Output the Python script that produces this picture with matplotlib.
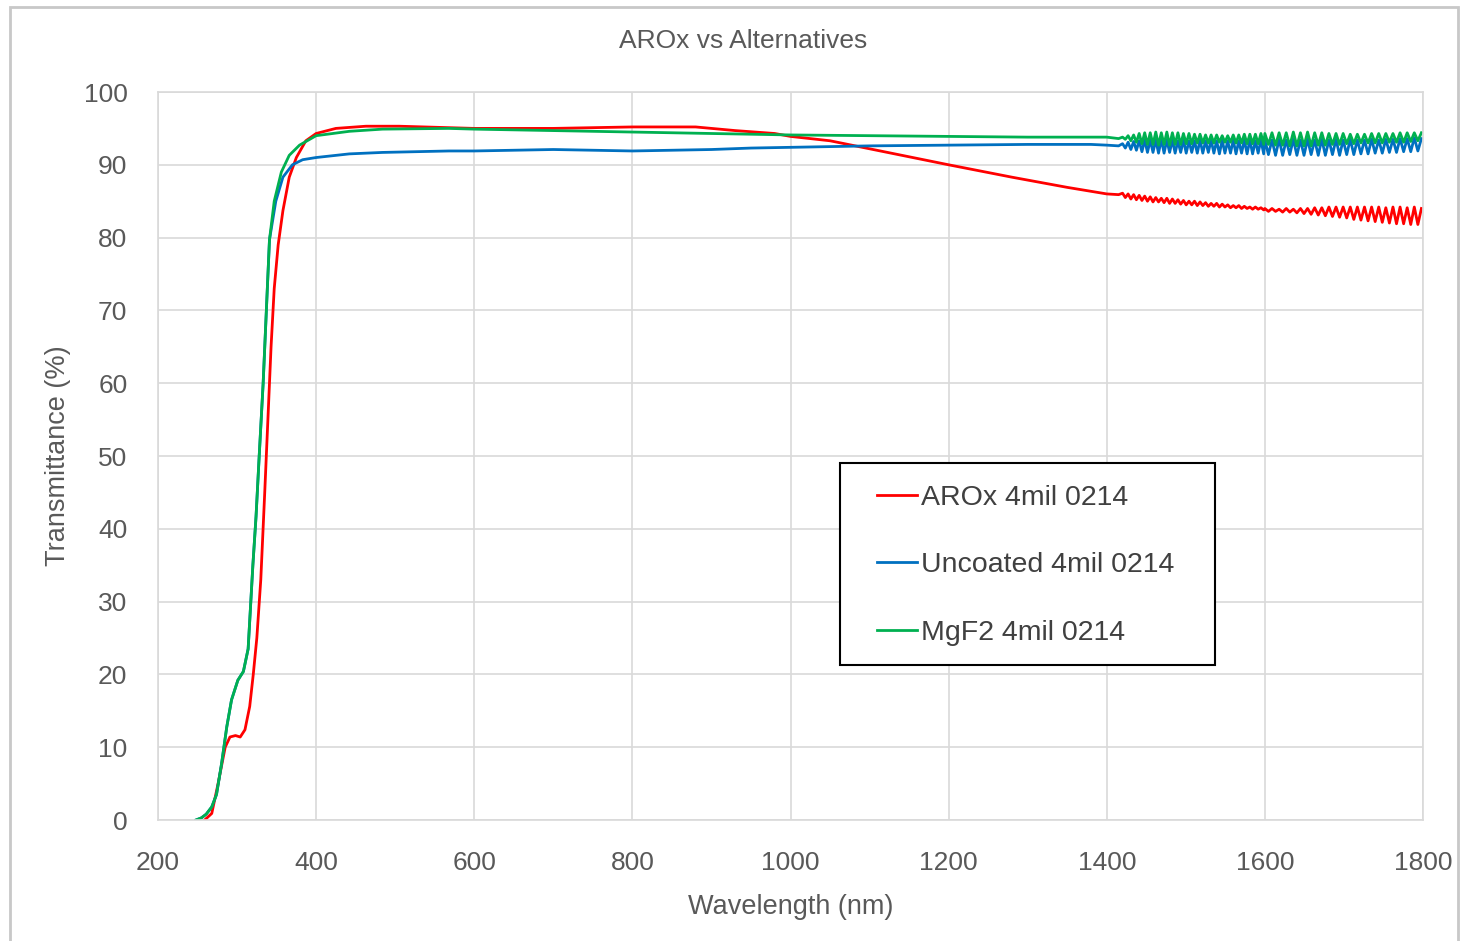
import numpy as np
import matplotlib
matplotlib.use("Agg")
import matplotlib.pyplot as plt
from matplotlib.patches import Rectangle

plt.rcParams["font.family"] = ["Liberation Sans", "DejaVu Sans"]

# smooth part of each spectrum (nm, %T)
arox_wl = [259, 268, 276, 285, 291, 298, 304, 310, 316, 320.5, 325, 330, 335, 339, 343,
           347, 352, 358, 366, 375, 387, 400, 425, 463, 505, 568, 600, 700, 800, 880,
           930, 980, 1000, 1050, 1100, 1200, 1280, 1300, 1350, 1400, 1415]
arox_t = [0, 0.9, 5, 10, 11.4, 11.6, 11.4, 12.4, 15.6, 20, 25, 33, 45, 55, 65,
          73, 79, 83.7, 88.3, 91, 93.3, 94.3, 95, 95.3, 95.3, 95.1, 95.0, 95.0, 95.2, 95.2,
          94.7, 94.3, 93.9, 93.3, 92.2, 90.0, 88.3, 87.9, 86.9, 86.0, 85.9]

unc_wl = [248, 255, 261, 268, 274, 280.5, 287, 293, 301, 308, 314, 320, 324, 328, 333,
          337, 341, 349, 358, 370, 383, 400, 442, 484, 568, 600, 700, 800, 900, 950,
          1000, 1050, 1100, 1200, 1300, 1380, 1400, 1415]
unc_t = [0, 0.3, 0.8, 1.8, 3.5, 7.8, 12.8, 16.5, 19.2, 20.4, 23.5, 35, 41.7, 50, 60,
         70, 79.7, 85, 88.3, 90, 90.7, 91.0, 91.5, 91.7, 91.9, 91.9, 92.1, 91.9, 92.1, 92.3,
         92.4, 92.5, 92.6, 92.7, 92.8, 92.8, 92.7, 92.6]

mgf2_wl = [248, 255, 261, 268, 274, 280.5, 287, 293, 301, 308, 314, 320, 324, 328, 333,
           337, 341, 347, 356, 366, 379, 400, 442, 484, 568, 600, 700, 800, 900, 1000,
           1100, 1200, 1300, 1400, 1415]
mgf2_t = [0, 0.3, 0.8, 1.8, 3.5, 7.8, 12.8, 16.5, 19.2, 20.4, 23.5, 35, 41.7, 50, 60,
          70, 79.7, 85, 89, 91.3, 92.7, 94, 94.6, 94.9, 95.0, 94.9, 94.7, 94.5, 94.3, 94.1,
          94.0, 93.9, 93.8, 93.8, 93.6]

# interference fringe region, instrument sampling grid
osc_wl = np.concatenate([np.arange(1420, 1600, 3.5), np.arange(1600, 1801, 4.5)])

arox_osc = [86.1, 85.5, 86.0, 85.3, 85.9, 85.2, 85.8, 85.1, 85.7, 85.0,
            85.6, 84.9, 85.5, 84.9, 85.4, 84.8, 85.4, 84.7, 85.3, 84.7,
            85.2, 84.6, 85.1, 84.5, 85.0, 84.5, 85.0, 84.4, 84.9, 84.4,
            84.8, 84.3, 84.7, 84.3, 84.7, 84.2, 84.6, 84.2, 84.5, 84.1,
            84.4, 84.1, 84.4, 84.0, 84.3, 84.0, 84.2, 83.9, 84.2, 83.9,
            84.1, 83.8,
            84.0, 83.6, 84.0, 83.6, 83.9, 83.5, 84.0, 83.5, 83.9, 83.4,
            84.0, 83.3, 84.0, 83.2, 84.1, 83.1, 84.1, 83.0, 84.2, 82.9,
            84.2, 82.8, 84.2, 82.7, 84.2, 82.5, 84.2, 82.4, 84.2, 82.3,
            84.2, 82.2, 84.2, 82.1, 84.1, 82.0, 84.2, 81.9, 84.2, 81.9,
            84.1, 81.8, 84.2, 81.8, 84.0]

unc_osc = [92.9, 92.3, 93.1, 92.1, 93.2, 92.0, 93.3, 91.8, 93.4, 91.7,
           93.4, 91.7, 93.4, 91.6, 93.5, 91.6, 93.4, 91.7, 93.4, 91.6,
           93.3, 91.7, 93.4, 91.6, 93.3, 91.7, 93.3, 91.6, 93.4, 91.6,
           93.3, 91.7, 93.4, 91.6, 93.3, 91.5, 93.4, 91.6, 93.3, 91.6,
           93.4, 91.5, 93.3, 91.6, 93.4, 91.5, 93.4, 91.5, 93.3, 91.6,
           93.4, 91.5,
           93.4, 91.4, 93.4, 91.3, 93.5, 91.3, 93.4, 91.4, 93.5, 91.3,
           93.4, 91.3, 93.5, 91.4, 93.4, 91.3, 93.5, 91.3, 93.4, 91.4,
           93.5, 91.3, 93.4, 91.4, 93.5, 91.4, 93.4, 91.5, 93.4, 91.5,
           93.5, 91.6, 93.4, 91.6, 93.5, 91.7, 93.5, 91.7, 93.6, 91.8,
           93.6, 91.8, 93.7, 91.9, 93.6]

mgf2_osc = [93.8, 93.5, 94.0, 93.3, 94.1, 93.1, 94.3, 92.9, 94.4, 92.8,
            94.4, 92.8, 94.5, 92.7, 94.4, 92.8, 94.5, 92.7, 94.4, 92.8,
            94.4, 92.8, 94.3, 92.9, 94.3, 92.9, 94.2, 93.0, 94.2, 93.0,
            94.1, 93.0, 94.1, 93.0, 94.1, 93.1, 94.0, 93.1, 94.0, 93.1,
            94.1, 93.0, 94.1, 93.0, 94.2, 92.9, 94.2, 92.9, 94.2, 92.9,
            94.3, 92.8,
            94.3, 92.8, 94.4, 92.7, 94.4, 92.7, 94.4, 92.6, 94.5, 92.6,
            94.4, 92.6, 94.5, 92.6, 94.4, 92.7, 94.4, 92.7, 94.3, 92.8,
            94.3, 92.8, 94.3, 92.9, 94.2, 92.9, 94.2, 93.0, 94.2, 93.0,
            94.3, 93.0, 94.3, 93.0, 94.3, 93.1, 94.3, 93.1, 94.4, 93.1,
            94.4, 93.2, 94.4, 93.3, 94.4]

series = [
    ("AROx 4mil 0214", arox_wl, arox_t, arox_osc, "#ff0000"),
    ("Uncoated 4mil 0214", unc_wl, unc_t, unc_osc, "#0070c0"),
    ("MgF2 4mil 0214", mgf2_wl, mgf2_t, mgf2_osc, "#00b050"),
]

grey = "#595959"
fig = plt.figure(figsize=(14.61, 9.41), dpi=100)
fig.patches.append(Rectangle((10 / 1461, -0.01), (1458 - 10) / 1461, 1 - 7 / 941 + 0.01,
                             transform=fig.transFigure, fill=False,
                             edgecolor="#c8c8c8", lw=2))
ax = fig.add_axes([158 / 1461, 1 - 820 / 941, (1423 - 158) / 1461, (820 - 92) / 941])

for name, wl, t, osc, col in series:
    x = np.concatenate([wl, osc_wl])
    y = np.concatenate([t, osc])
    ax.plot(x, y, color=col, lw=2.0, label=name)

ax.set_xlim(200, 1800)
ax.set_ylim(0, 100)
ax.set_xticks(np.arange(200, 1801, 200))
ax.set_yticks(np.arange(0, 101, 10))
ax.grid(True, color="#d9d9d9", lw=1.2)
ax.set_axisbelow(True)
for s in ax.spines.values():
    s.set_color("#d9d9d9")
    s.set_linewidth(1.2)
ax.tick_params(length=0, labelsize=19, labelcolor=grey)
ax.tick_params(axis="y", pad=22)
ax.tick_params(axis="x", pad=22)

ax.set_xlabel("Wavelength (nm)", fontsize=19.5, color=grey, labelpad=14)
ax.set_ylabel("Transmittance (%)", fontsize=19.5, color=grey, labelpad=9)
fig.text(743 / 1461, 1 - 41 / 941, "AROx vs Alternatives", fontsize=19, color=grey,
         ha="center", va="center")

# legend box drawn separately so the padding matches
ax.add_patch(Rectangle(((840 - 158) / 1265, (820 - 665) / 728), 375 / 1265, 202 / 728,
                       transform=ax.transAxes, facecolor="white", edgecolor="black",
                       lw=1.5, zorder=5))
leg = ax.legend(loc="upper left", bbox_to_anchor=(0.5684, 0.4602), fontsize=20.5,
                frameon=False, handlelength=1.42, handletextpad=0.12,
                labelspacing=1.45, borderpad=0, borderaxespad=0)
leg.set_zorder(6)
for txt in leg.get_texts():
    txt.set_color("#404040")

fig.savefig("out.png", dpi=100)
